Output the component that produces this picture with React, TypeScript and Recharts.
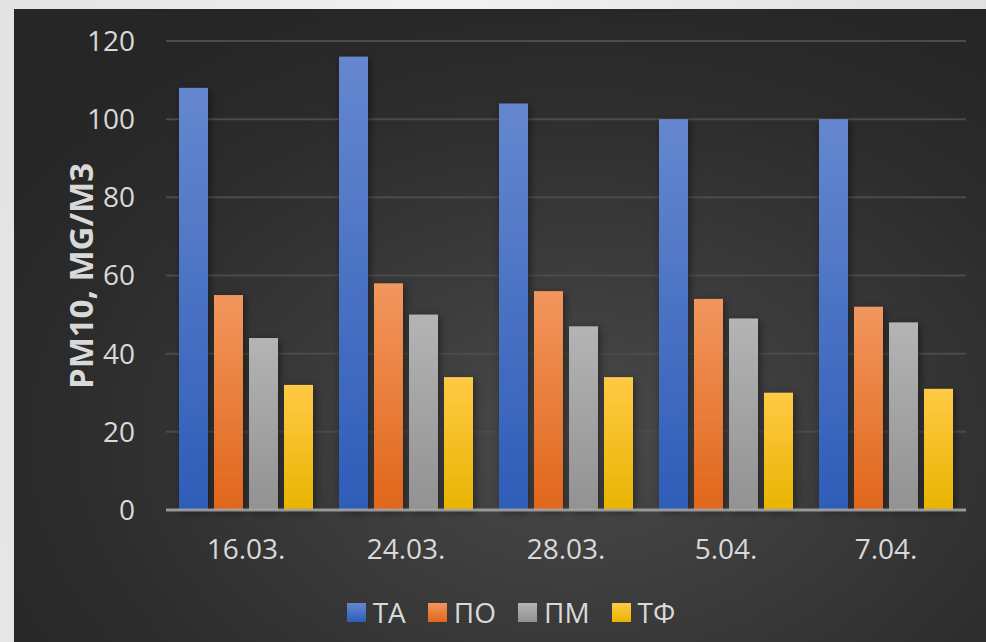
import { BarChart, Bar, XAxis, YAxis, CartesianGrid } from "recharts";

const dates = ["16.03.", "24.03.", "28.03.", "5.04.", "7.04."];
const ta = [108, 116, 104, 100, 100];
const po = [55, 58, 56, 54, 52];
const pm = [44, 50, 47, 49, 48];
const tf = [32, 34, 34, 30, 31];
const yTicks = [0, 20, 40, 60, 80, 100, 120];

const series = [
  { key: "ta", name: "ТА", top: "#6687cf", bottom: "#2e5db8" },
  { key: "po", name: "ПО", top: "#f2965e", bottom: "#e0661a" },
  { key: "pm", name: "ПМ", top: "#b4b4b4", bottom: "#929292" },
  { key: "tf", name: "ТФ", top: "#ffca45", bottom: "#e9b400" },
];

const data = dates.map((d, i) => ({ date: d, ta: ta[i], po: po[i], pm: pm[i], tf: tf[i] }));

const font = "'Open Sans', 'Noto Sans', sans-serif";
const textColor = "#d9d9d9";

const ShadowRect = (props: any) => {
  const { x, y, width, height, fill } = props;
  if (!height || height <= 0) return null;
  return <rect x={x} y={y} width={width} height={height} fill={fill} filter="url(#barShadow)" />;
};

const YTitle = () => (
  <text
    x={80}
    y={276}
    transform="rotate(-90 80 276)"
    textAnchor="middle"
    dominantBaseline="central"
    fill={textColor}
    fontFamily={font}
    fontWeight={700}
    fontSize={33}
  >
    PM10, MG/M3
  </text>
);

export default function App() {
  return (
    <div
      style={{
        position: "absolute",
        left: 0,
        top: 0,
        width: 986,
        height: 642,
        overflow: "hidden",
        background: "linear-gradient(100deg, #e2e3e3 0%, #f1f1f1 40%, #dcdddd 100%)",
      }}
    >
      <div
        style={{
          position: "absolute",
          left: 14,
          top: 9,
          right: 0,
          bottom: 0,
          background:
            "radial-gradient(ellipse 70% 75% at 58% 68%, #4a4a4a 0%, #3a3a3a 40%, #2c2c2c 75%, #262626 100%)",
        }}
      />
      <div style={{ position: "absolute", left: 0, top: 0 }}>
        <BarChart
          width={986}
          height={642}
          data={data}
          margin={{ top: 41, right: 20, left: 0, bottom: 72 }}
          barCategoryGap={13}
          barGap={6}
        >
          <defs>
            {series.map((s) => (
              <linearGradient key={s.key} id={`grad-${s.key}`} x1="0" y1="0" x2="0" y2="1">
                <stop offset="0%" stopColor={s.top} />
                <stop offset="100%" stopColor={s.bottom} />
              </linearGradient>
            ))}
            <filter id="barShadow" x="-50%" y="-20%" width="200%" height="140%">
              <feDropShadow dx="2" dy="2" stdDeviation="4" floodColor="#000" floodOpacity="0.45" />
            </filter>
          </defs>
          <CartesianGrid vertical={false} stroke="#4b4b4b" strokeWidth={2} />
          <XAxis
            dataKey="date"
            height={60}
            tickSize={0}
            tickMargin={29}
            axisLine={{ stroke: "#a6a6a6", strokeWidth: 3, strokeOpacity: 0.85 }}
            tick={{ fill: textColor, fontSize: 28, fontFamily: font }}
          />
          <YAxis
            width={166}
            domain={[0, 120]}
            ticks={yTicks}
            tickSize={0}
            tickMargin={31}
            axisLine={false}
            tick={{ fill: textColor, fontSize: 28, fontFamily: font }}
            label={<YTitle />}
          />
          {series.map((s) => (
            <Bar
              key={s.key}
              dataKey={s.key}
              name={s.name}
              fill={`url(#grad-${s.key})`}
              shape={ShadowRect}
              isAnimationActive={false}
            />
          ))}
        </BarChart>
      </div>
      <div
        style={{
          position: "absolute",
          left: 0,
          top: 594,
          width: 986,
          display: "flex",
          justifyContent: "center",
          gap: 22,
          paddingLeft: 18,
          fontFamily: font,
          fontSize: 28,
          color: textColor,
        }}
      >
        {series.map((s) => (
          <div key={s.key} style={{ display: "flex", alignItems: "center" }}>
            <span
              style={{
                display: "inline-block",
                width: 19,
                height: 19,
                marginRight: 7,
                background: `linear-gradient(${s.top}, ${s.bottom})`,
              }}
            />
            <span style={{ lineHeight: "36px" }}>{s.name}</span>
          </div>
        ))}
      </div>
    </div>
  );
}
